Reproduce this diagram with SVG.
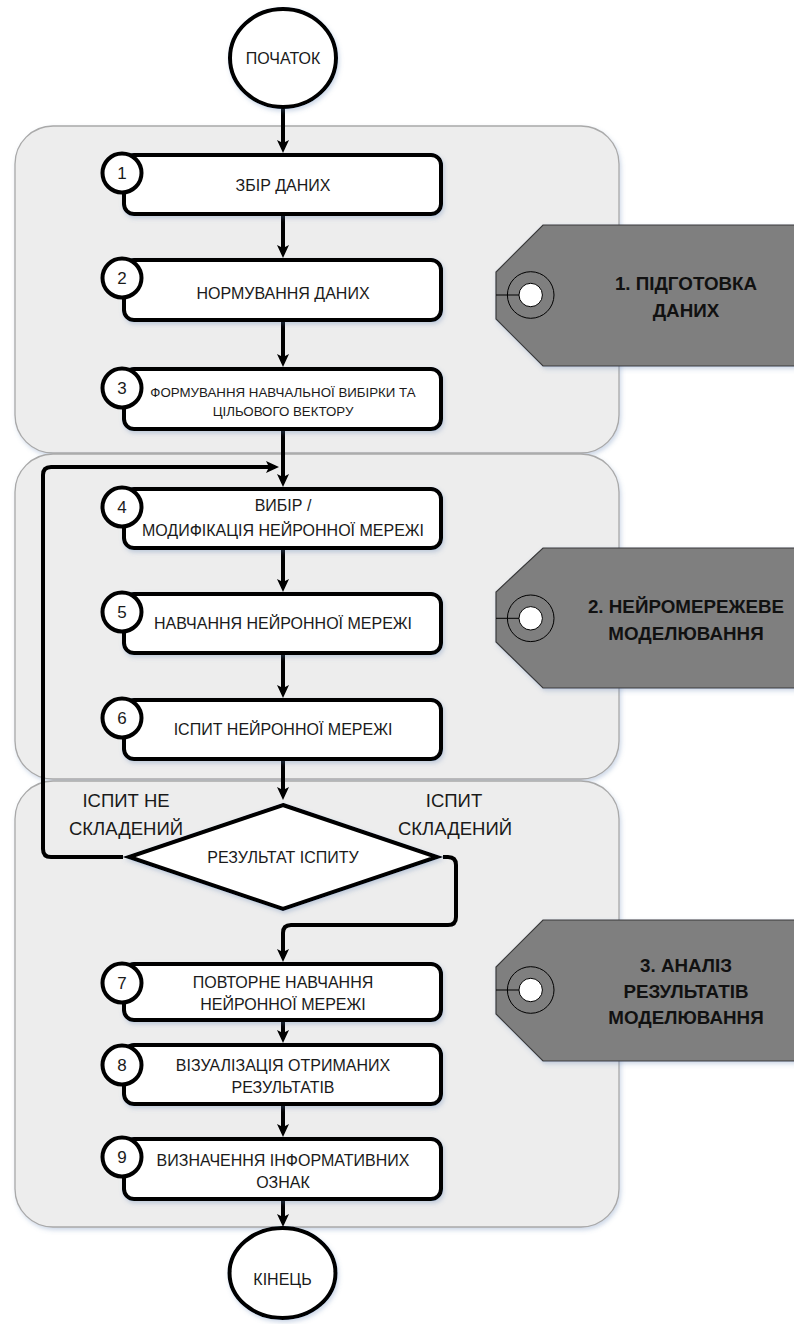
<svg xmlns="http://www.w3.org/2000/svg" width="794" height="1324" viewBox="0 0 794 1324">
<defs>
<style>
.panel{fill:#ededed;stroke:#a9a9a9;stroke-width:1.3}
.box{fill:#fff;stroke:#000;stroke-width:4}
.num{fill:#fff;stroke:#000;stroke-width:4}
.conn{fill:none;stroke:#000;stroke-width:4;stroke-linejoin:round}
.tag{fill:#7f7f7f;stroke:#3a3a3a;stroke-width:1.2}
.thin{fill:none;stroke:#000;stroke-width:1}
.hole{fill:#fff;stroke:#000;stroke-width:1}
text{font-family:"Liberation Sans",Arial,sans-serif;fill:#1a1a1a;text-anchor:middle}
.t{font-size:16px}
.s{font-size:13.3px}
.n{font-size:17px}
.lab{font-size:18.5px}
.tg{font-size:18.8px;font-weight:bold;fill:#111}
</style>
<filter id="sh" x="-10%" y="-10%" width="130%" height="130%">
<feDropShadow dx="1.5" dy="2.5" stdDeviation="2" flood-color="#5b7fb0" flood-opacity="0.3"/>
</filter>
<marker id="ah" markerUnits="userSpaceOnUse" markerWidth="14" markerHeight="12" viewBox="0 0 14 12" refX="9" refY="6" orient="auto">
<path d="M0,0 L13,6 L0,12 L3,6 z" fill="#000"/>
</marker>
</defs>

<g id="panels">
<rect id="panel1" class="panel" filter="url(#sh)" x="15" y="126" width="604" height="327" rx="38"/>
<rect id="panel2" class="panel" filter="url(#sh)" x="15" y="454" width="604" height="325" rx="38"/>
<rect id="panel3" class="panel" filter="url(#sh)" x="15" y="781" width="604" height="446" rx="38"/>
</g>

<g id="connectors">
<path class="conn" marker-end="url(#ah)" d="M283,106 V149"/>
<path class="conn" marker-end="url(#ah)" d="M283,216 V254"/>
<path class="conn" marker-end="url(#ah)" d="M283,322 V363"/>
<path class="conn" marker-end="url(#ah)" d="M283,431 V483"/>
<path class="conn" marker-end="url(#ah)" d="M123,857 H51 Q43,857 43,849 V475 Q43,467 51,467 H275"/>
<path class="conn" marker-end="url(#ah)" d="M283,550 V588"/>
<path class="conn" marker-end="url(#ah)" d="M283,655 V694"/>
<path class="conn" marker-end="url(#ah)" d="M283,761 V796"/>
<path class="conn" marker-end="url(#ah)" d="M443,857 H448 Q456,857 456,865 V917 Q456,925 448,925 H291 Q283,925 283,933 V958"/>
<path class="conn" marker-end="url(#ah)" d="M283,1022 V1039"/>
<path class="conn" marker-end="url(#ah)" d="M283,1106 V1133"/>
<path class="conn" marker-end="url(#ah)" d="M283,1201 V1223"/>
</g>

<g id="start">
<ellipse class="box" filter="url(#sh)" cx="283" cy="58" rx="53" ry="49"/>
<text class="t" x="283" y="64">ПОЧАТОК</text>
</g>

<g id="node1">
<rect class="box" filter="url(#sh)" x="124" y="155" width="317" height="59" rx="10"/>
<circle class="num" cx="122" cy="173" r="19.5"/>
<text class="n" x="122" y="179">1</text>
<text class="t" x="283" y="191">ЗБІР ДАНИХ</text>
</g>

<g id="node2">
<rect class="box" filter="url(#sh)" x="124" y="260" width="317" height="60" rx="10"/>
<circle class="num" cx="122" cy="278" r="19.5"/>
<text class="n" x="122" y="284">2</text>
<text class="t" x="283" y="299">НОРМУВАННЯ ДАНИХ</text>
</g>

<g id="node3">
<rect class="box" filter="url(#sh)" x="124" y="369" width="317" height="60" rx="10"/>
<circle class="num" cx="122" cy="388" r="19.5"/>
<text class="n" x="122" y="394">3</text>
<text class="s" x="283" y="397">ФОРМУВАННЯ НАВЧАЛЬНОЇ ВИБІРКИ ТА</text>
<text class="s" x="283" y="415.5">ЦІЛЬОВОГО ВЕКТОРУ</text>
</g>

<g id="node4">
<rect class="box" filter="url(#sh)" x="124" y="489" width="317" height="59" rx="10"/>
<circle class="num" cx="122" cy="507" r="19.5"/>
<text class="n" x="122" y="513">4</text>
<text class="t" x="283" y="511">ВИБІР /</text>
<text class="t" x="283" y="536">МОДИФІКАЦІЯ НЕЙРОННОЇ МЕРЕЖІ</text>
</g>

<g id="node5">
<rect class="box" filter="url(#sh)" x="124" y="594" width="317" height="59" rx="10"/>
<circle class="num" cx="122" cy="612" r="19.5"/>
<text class="n" x="122" y="618">5</text>
<text class="t" x="283" y="629">НАВЧАННЯ НЕЙРОННОЇ МЕРЕЖІ</text>
</g>

<g id="node6">
<rect class="box" filter="url(#sh)" x="124" y="700" width="317" height="59" rx="10"/>
<circle class="num" cx="122" cy="718" r="19.5"/>
<text class="n" x="122" y="724">6</text>
<text class="t" x="283" y="735">ІСПИТ НЕЙРОННОЇ МЕРЕЖІ</text>
</g>

<g id="decision">
<polygon class="box" filter="url(#sh)" points="283,805 437,857 283,909 129,857"/>
<text class="t" x="283" y="863">РЕЗУЛЬТАТ ІСПИТУ</text>
</g>

<g id="label-fail">
<text class="lab" x="126" y="806.5">ІСПИТ НЕ</text>
<text class="lab" x="126" y="834.5">СКЛАДЕНИЙ</text>
</g>

<g id="label-pass">
<text class="lab" x="454" y="806.5">ІСПИТ</text>
<text class="lab" x="455" y="834.5">СКЛАДЕНИЙ</text>
</g>

<g id="node7">
<rect class="box" filter="url(#sh)" x="124" y="964" width="317" height="56" rx="10"/>
<circle class="num" cx="122" cy="983" r="19.5"/>
<text class="n" x="122" y="989">7</text>
<text class="t" x="283" y="988">ПОВТОРНЕ НАВЧАННЯ</text>
<text class="t" x="283" y="1010">НЕЙРОННОЇ МЕРЕЖІ</text>
</g>

<g id="node8">
<rect class="box" filter="url(#sh)" x="124" y="1045" width="317" height="59" rx="10"/>
<circle class="num" cx="122" cy="1065" r="19.5"/>
<text class="n" x="122" y="1071">8</text>
<text class="t" x="283" y="1071">ВІЗУАЛІЗАЦІЯ ОТРИМАНИХ</text>
<text class="t" x="283" y="1093">РЕЗУЛЬТАТІВ</text>
</g>

<g id="node9">
<rect class="box" filter="url(#sh)" x="124" y="1139" width="317" height="60" rx="10"/>
<circle class="num" cx="122" cy="1157" r="19.5"/>
<text class="n" x="122" y="1163">9</text>
<text class="t" x="283" y="1166">ВИЗНАЧЕННЯ ІНФОРМАТИВНИХ</text>
<text class="t" x="283" y="1188">ОЗНАК</text>
</g>

<g id="end">
<ellipse class="box" filter="url(#sh)" cx="282.5" cy="1273" rx="53" ry="45"/>
<text class="t" x="282.5" y="1285">КІНЕЦЬ</text>
</g>

<g id="tag1">
<polygon class="tag" filter="url(#sh)" points="543,225 800,225 800,366 543,366 496,319 496,272"/>
<circle class="thin" cx="530.7" cy="295" r="23.3"/>
<line class="thin" x1="496" y1="295" x2="519" y2="295"/>
<circle class="hole" cx="530.7" cy="295" r="11.7"/>
<text class="tg" x="686" y="290">1. ПІДГОТОВКА</text>
<text class="tg" x="686" y="316.5">ДАНИХ</text>
</g>

<g id="tag2">
<polygon class="tag" filter="url(#sh)" points="543,548 800,548 800,688 543,688 496,642 496,592"/>
<circle class="thin" cx="530.7" cy="618.3" r="23.3"/>
<line class="thin" x1="496" y1="618.3" x2="519" y2="618.3"/>
<circle class="hole" cx="530.7" cy="618.3" r="11.7"/>
<text class="tg" x="686" y="613">2. НЕЙРОМЕРЕЖЕВЕ</text>
<text class="tg" x="686" y="639.5">МОДЕЛЮВАННЯ</text>
</g>

<g id="tag3">
<polygon class="tag" filter="url(#sh)" points="543,920 800,920 800,1061 543,1061 496,1014 496,967"/>
<circle class="thin" cx="530.7" cy="990" r="23.3"/>
<line class="thin" x1="496" y1="990" x2="519" y2="990"/>
<circle class="hole" cx="530.7" cy="990" r="11.7"/>
<text class="tg" x="686" y="971.5">3. АНАЛІЗ</text>
<text class="tg" x="686" y="997.5">РЕЗУЛЬТАТІВ</text>
<text class="tg" x="686" y="1024">МОДЕЛЮВАННЯ</text>
</g>
</svg>
